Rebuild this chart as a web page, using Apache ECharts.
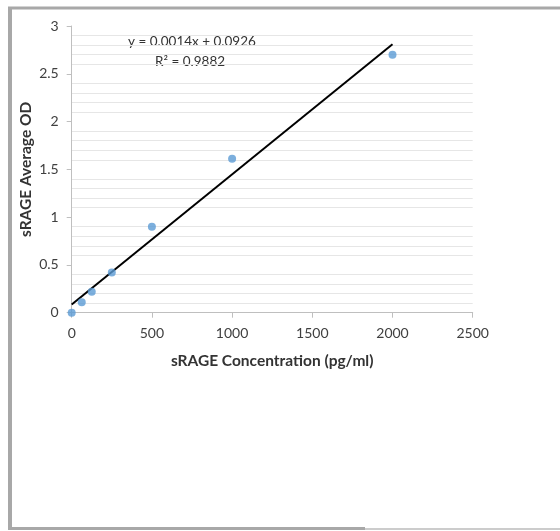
<!DOCTYPE html>
<html>
<head>
<meta charset="utf-8">
<script src="https://cdn.jsdelivr.net/npm/echarts@6/dist/echarts.min.js"></script>
<style>
html,body{margin:0;padding:0;background:#fff;}
#chart{width:560px;height:531px;}
</style>
</head>
<body>
<div id="chart"></div>
<script>
// Data
var concentrations = [0, 62.5, 125, 250, 500, 1000, 2000];
var averageOD = [0, 0.11, 0.22, 0.42, 0.90, 1.61, 2.70];
var xTitle = 'sRAGE Concentration (pg/ml)';
var yTitle = 'sRAGE Average OD';
var equationText = 'y = 0.0014x + 0.0926';
var r2Text = 'R\u00B2 = 0.9882';

// Linear least-squares fit from the data
var n = concentrations.length, mx = 0, my = 0;
for (var i = 0; i < n; i++) { mx += concentrations[i]; my += averageOD[i]; }
mx /= n; my /= n;
var sxx = 0, sxy = 0;
for (var i = 0; i < n; i++) {
  sxx += (concentrations[i] - mx) * (concentrations[i] - mx);
  sxy += (concentrations[i] - mx) * (averageOD[i] - my);
}
var slope = sxy / sxx, intercept = my - slope * mx;
var xFirst = concentrations[0], xLast = concentrations[n - 1];
var trend = [[xFirst, intercept + slope * xFirst], [xLast, intercept + slope * xLast]];

var points = concentrations.map(function (c, i) { return [c, averageOD[i]]; });

var FONT = 'Lato';
var chart = echarts.init(document.getElementById('chart'), null, {renderer: 'canvas'});
chart.setOption({
  backgroundColor: '#ffffff',
  animation: false,
  grid: {left: 71.7, right: 87.3, top: 26, bottom: 218.3, containLabel: false},
  xAxis: {
    type: 'value', min: 0, max: 2500, interval: 500,
    name: xTitle, nameLocation: 'middle', nameGap: 40,
    nameTextStyle: {fontFamily: FONT, fontWeight: 'bold', fontSize: 15.5, color: '#333333'},
    axisLine: {show: true, lineStyle: {color: '#bfbfbf', width: 1}},
    axisTick: {show: true, length: 5, lineStyle: {color: '#bfbfbf'}},
    axisLabel: {fontFamily: FONT, fontSize: 14, color: '#404040', margin: 14,
      formatter: function (v) { return String(v); }},
    splitLine: {show: false}
  },
  yAxis: {
    type: 'value', min: 0, max: 3, interval: 0.5,
    name: yTitle, nameLocation: 'middle', nameGap: 38, nameRotate: 90,
    nameMoveOverlap: false,
    nameTextStyle: {fontFamily: FONT, fontWeight: 'bold', fontSize: 15.5, color: '#333333'},
    axisLine: {show: true, lineStyle: {color: '#bfbfbf', width: 1}},
    axisTick: {show: true, length: 5, lineStyle: {color: '#bfbfbf'}},
    axisLabel: {fontFamily: FONT, fontSize: 14, color: '#404040', margin: 13},
    splitLine: {show: false},
    minorTick: {show: false, splitNumber: 5},
    minorSplitLine: {show: true, lineStyle: {color: '#e6e6e6', width: 1}}
  },
  series: [
    {
      type: 'line', data: trend, showSymbol: false, symbol: 'none',
      lineStyle: {color: '#000000', width: 2}, z: 2
    },
    {
      type: 'scatter', data: points, symbol: 'circle', symbolSize: 8,
      itemStyle: {color: '#5b9bd5'}, z: 3
    }
  ],
  graphic: [
    {type: 'line', shape: {x1: 10, y1: 7, x2: 10, y2: 529}, style: {stroke: '#a8a8a8', lineWidth: 4}},
    {type: 'line', shape: {x1: 8, y1: 8, x2: 560, y2: 8}, style: {stroke: '#a8a8a8', lineWidth: 3}},
    {type: 'line', shape: {x1: 8, y1: 528.5, x2: 365, y2: 528.5}, style: {stroke: '#a8a8a8', lineWidth: 3}},
    {type: 'line', shape: {x1: 365, y1: 529, x2: 560, y2: 529}, style: {stroke: '#cccccc', lineWidth: 2}},
    {type: 'text', left: 128, top: 35, style: {text: equationText, fontFamily: FONT, fontSize: 13.5, fill: '#333333'}},
    {type: 'text', left: 155, top: 55, style: {text: r2Text, fontFamily: FONT, fontSize: 13.5, fill: '#333333'}}
  ]
});
</script>
</body>
</html>
